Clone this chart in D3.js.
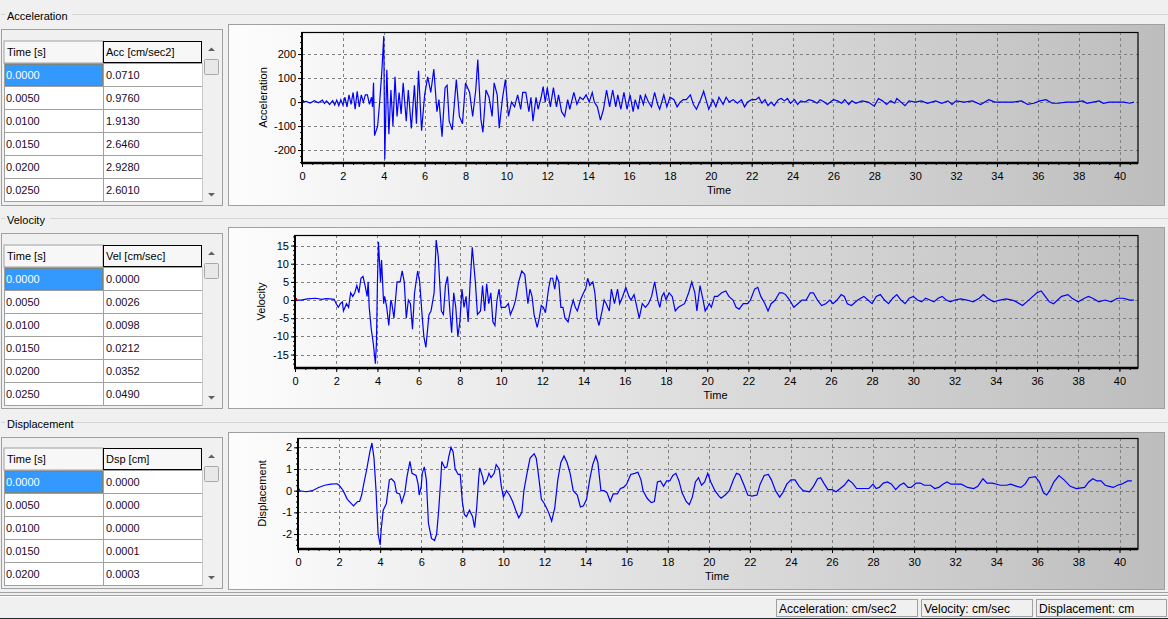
<!DOCTYPE html>
<html>
<head>
<meta charset="utf-8">
<script src="https://cdnjs.cloudflare.com/ajax/libs/d3/7.8.5/d3.min.js"></script>
<style>
  html, body { margin: 0; padding: 0; background: #f0f0f0; overflow: hidden; }
  svg text { font-family: "Liberation Sans", Arial, sans-serif; font-size: 11px; }
</style>
</head>
<body>
<div id="app"></div>
<script>
'use strict';

//Data ===========================================

// Table rows (first rows of the time history grids)
var tableTime = ['0.0000', '0.0050', '0.0100', '0.0150', '0.0200', '0.0250'];
var tableAcc = ['0.0710', '0.9760', '1.9130', '2.6460', '2.9280', '2.6010'];
var tableVel = ['0.0000', '0.0026', '0.0098', '0.0212', '0.0352', '0.0490'];
var tableDsp = ['0.0000', '0.0000', '0.0000', '0.0001', '0.0003'];

// Acceleration [cm/sec2] as [time, value]
var accData = [
  [0, 0], [0.2, 3], [0.4, -4], [0.6, 6], [0.8, -3], [1.0, 8], [1.1, -6], [1.2, 5], [1.35, -10], [1.5, 6],
  [1.6, -12], [1.7, 8], [1.8, -15], [1.9, 10], [2.0, -12], [2.1, 20], [2.2, -20], [2.3, 30], [2.4, -10], [2.5, 40],
  [2.6, -30], [2.7, 45], [2.8, -20], [2.9, 30], [3.0, 0], [3.1, 30], [3.2, 30], [3.3, -10], [3.4, 20], [3.45, -20],
  [3.5, 80], [3.55, -140], [3.7, -100], [3.8, 0], [3.9, 120], [4.0, 275], [4.05, -238], [4.15, 135], [4.25, -134], [4.35, 50],
  [4.45, -100], [4.55, 105], [4.65, -60], [4.75, 40], [4.85, -50], [4.95, 80], [5.1, -80], [5.2, 50], [5.35, -110], [5.5, 70],
  [5.6, -90], [5.7, 130], [5.85, -119], [6.0, 30], [6.15, 105], [6.3, 40], [6.45, 137], [6.6, -40], [6.7, 10], [6.85, -144],
  [7.0, 60], [7.1, 70], [7.2, -80], [7.35, -116], [7.55, 94], [7.7, -60], [7.85, -90], [8.0, 80], [8.2, 40], [8.35, -60],
  [8.5, 50], [8.6, 177], [8.75, -70], [8.85, -126], [9.0, 50], [9.15, 20], [9.3, -60], [9.4, 80], [9.55, 30], [9.65, -109],
  [9.8, 10], [9.95, 94], [10.1, -60], [10.25, 0], [10.4, -20], [10.55, 30], [10.7, -30], [10.8, 40], [10.95, 40], [11.1, -40],
  [11.2, 20], [11.3, -80], [11.45, 20], [11.55, -30], [11.7, 20], [11.8, 64], [11.9, 0],
  [12.0, 60], [12.15, -20], [12.3, 60], [12.45, -20], [12.55, 30], [12.7, -40], [12.85, -60], [13.0, 10], [13.1, -30], [13.3, 40],
  [13.45, -10], [13.6, 20], [13.75, 10], [13.9, 30], [14.05, 0], [14.2, 40], [14.3, 0], [14.45, -20], [14.6, -75], [14.75, -30],
  [14.9, 50], [15.05, -20], [15.2, 50], [15.35, -20], [15.45, 30], [15.6, -30], [15.75, 40], [15.9, -30], [16.05, 30], [16.2, -40],
  [16.3, 10], [16.45, -30], [16.55, 30], [16.7, -10], [16.8, 30], [16.95, 0], [17.1, -20], [17.25, 40], [17.4, -10], [17.5, -30],
  [17.7, 30], [17.85, -20], [18.0, 20], [18.2, 10], [18.35, -20], [18.5, 0], [18.65, 10], [18.8, 10], [19.0, 30], [19.15, -10],
  [19.3, -30], [19.5, 10], [19.65, 45], [19.8, 0], [19.9, -30], [20.1, 10], [20.25, -20], [20.4, 20], [20.6, -10], [20.75, 20],
  [20.9, 0], [21.1, 10], [21.3, -5], [21.5, 10], [21.65, -20], [21.8, 0], [22.0, 10], [22.2, 10], [22.35, 20], [22.5, -5],
  [22.65, 10], [22.8, -15], [22.95, 0], [23.1, -15], [23.3, 10], [23.45, 15], [23.6, 5], [23.75, 15], [23.9, -5], [24.1, 10],
  [24.25, -10], [24.4, 5], [24.6, 0], [24.8, 10], [25.0, 5], [25.2, -5], [25.35, 10], [25.55, 0], [25.7, -10], [25.85, 0],
  [26.0, 10], [26.2, 5], [26.4, -5], [26.55, 10], [26.75, -10], [26.9, 5], [27.1, -5], [27.4, 5], [27.7, 0],
  [28.0, -17], [28.2, 15], [28.4, 5], [28.6, -10], [28.8, 5], [29.0, -5], [29.1, 15], [29.3, 0], [29.5, -15], [29.7, 5],
  [30.0, 0], [30.3, 5], [30.6, -5], [31.0, 5], [31.3, -5], [31.6, 5], [31.8, -10], [32.0, 5], [32.4, 0], [32.8, 5],
  [33.2, -10], [33.6, 10], [33.9, 0], [34.4, 0], [34.8, 0], [35.2, 5], [35.5, -10], [35.8, -5], [36.1, 5], [36.4, 10],
  [36.7, -5], [37.0, -5], [37.4, 0], [37.8, 0], [38.2, 5], [38.4, -5], [38.7, 0], [39.0, 5], [39.2, -5], [39.5, 0],
  [39.8, 0], [40.2, 0], [40.5, -5], [40.7, 0]
];

// Velocity [cm/sec]
var velData = [
  [0, 0], [0.3, 0], [0.6, 0.3], [1.0, 0.5], [1.3, 0.2], [1.5, 0.4], [1.7, 0.3], [1.9, 0.2], [2.0, -1], [2.1, -2],
  [2.2, -1], [2.3, -0.5], [2.35, -3], [2.5, -1], [2.6, -2], [2.7, 2], [2.8, 1], [2.9, 2], [3.0, 4], [3.1, 2],
  [3.2, 6], [3.3, 6.5], [3.4, 4], [3.5, 1], [3.55, 5], [3.6, -2], [3.7, -8], [3.8, -12], [3.9, -17.5], [3.95, -12],
  [4.0, 5], [4.05, 16], [4.15, 5], [4.2, 11], [4.3, -1], [4.35, 1], [4.45, -2], [4.55, -7], [4.65, 0], [4.7, -1],
  [4.8, -5], [4.95, 5], [5.1, 5], [5.2, 8], [5.3, 5], [5.4, -5], [5.5, 0], [5.6, -1], [5.7, -8], [5.8, 2],
  [5.95, 8], [6.05, 5], [6.15, -3], [6.25, -10], [6.35, -13], [6.5, -4], [6.6, -3], [6.75, 2], [6.85, 16.5], [6.95, 12],
  [7.1, -3], [7.2, -4], [7.3, 4], [7.4, 6.5], [7.5, -2], [7.6, -9], [7.7, 2], [7.8, -2], [7.9, -10], [8.0, -6],
  [8.1, 3], [8.2, -2], [8.3, 1], [8.4, -6], [8.5, 5], [8.6, 14.5], [8.75, 5], [8.85, -4], [9.0, -3], [9.1, 4],
  [9.2, -3], [9.3, 4.5], [9.4, -1], [9.5, 2], [9.6, -6], [9.7, -7], [9.8, 0], [9.9, 3], [10.0, -2], [10.2, -2],
  [10.35, -1], [10.45, -4], [10.6, -2], [10.7, 0], [10.85, 5], [11.0, 8], [11.15, 7], [11.3, -1], [11.4, 3], [11.5, 1],
  [11.6, -4], [11.75, -7.5], [11.85, -5], [11.95, -1.5], [12.05, -2], [12.15, -3.5], [12.3, 3], [12.4, 6], [12.5, 6], [12.6, 3],
  [12.7, 6.5], [12.8, 5], [12.9, -2], [13.0, -2], [13.1, -5], [13.25, -6], [13.4, -2], [13.5, 0], [13.6, -2], [13.7, -3],
  [13.85, 0], [14.0, 2], [14.1, 3], [14.2, 6], [14.3, 4], [14.45, 5], [14.55, 2], [14.65, -5], [14.75, -7], [14.9, -3],
  [15.0, 0], [15.1, -1], [15.25, -3], [15.35, 3], [15.5, -1], [15.65, 3], [15.75, -1], [15.9, 1], [16.05, 3.5], [16.2, 1],
  [16.3, 0], [16.45, 1.5], [16.55, -1], [16.7, -5], [16.85, -1], [17.0, -2], [17.15, -1], [17.3, 1], [17.45, 5], [17.6, 0],
  [17.7, -2], [17.8, 1], [17.9, 2], [18.0, 0], [18.15, 2], [18.3, 1], [18.45, -3], [18.6, -2], [18.9, -1], [19.1, 2],
  [19.25, 5], [19.4, 2], [19.5, -3], [19.65, 4], [19.8, 0], [19.9, -3], [20.1, -1], [20.2, -2], [20.35, 1], [20.5, 1],
  [20.7, 2], [20.9, 2.5], [21.05, 1], [21.25, 0], [21.4, -2], [21.55, -2.5], [21.75, -1], [21.95, -1], [22.1, 0], [22.3, 3],
  [22.45, 3.5], [22.6, 1], [22.8, -1], [22.95, -3], [23.1, -1], [23.3, 0], [23.5, 2], [23.65, 2], [23.8, 1.5], [24.0, 0],
  [24.2, -2], [24.4, -1], [24.6, 0], [24.8, 0], [25.0, 2], [25.15, 2], [25.35, 0], [25.55, -1.5], [25.75, -1], [25.95, 0],
  [26.1, -1], [26.3, 0], [26.5, 1.5], [26.65, 1], [26.8, -1], [27.0, -1.5], [27.3, 0], [27.6, 1], [27.8, 0],
  [28.0, -1], [28.2, 1], [28.4, 1.5], [28.6, 0], [28.8, -1], [29.0, 0.5], [29.2, 1.5], [29.4, 0], [29.6, -1], [29.8, 0.5],
  [30.0, 1], [30.2, 0], [30.4, -0.5], [30.6, 0.5], [30.8, 0], [31.0, -0.5], [31.2, 0.5], [31.4, 1], [31.6, 0], [31.8, -0.5],
  [32.0, 0], [32.3, 0.3], [32.6, 0], [32.9, -0.5], [33.2, 0.5], [33.4, 1.5], [33.6, 0.5], [33.9, -0.5], [34.2, 0], [34.5, 0.3],
  [34.8, 0], [35.0, -0.5], [35.3, -1.5], [35.5, -0.5], [35.8, 1], [36.0, 2], [36.2, 2.5], [36.4, 1], [36.6, -0.5], [36.8, -1],
  [37.0, 0], [37.2, 1], [37.5, 1.5], [37.7, 0.5], [38.0, -0.5], [38.3, 0.5], [38.5, 1], [38.7, 0.5], [39.0, -0.5], [39.3, 0],
  [39.6, -0.5], [39.9, 0.5], [40.2, 0.5], [40.5, 0], [40.7, 0]
];

// Displacement [cm]
var dspData = [
  [0, 0], [0.4, -0.05], [0.7, 0], [1.0, 0.15], [1.3, 0.25], [1.6, 0.3], [1.9, 0.32], [2.0, 0.25], [2.2, 0], [2.4, -0.4],
  [2.6, -0.6], [2.7, -0.7], [2.9, -0.5], [3.0, -0.5], [3.1, -0.2], [3.2, 0.3], [3.35, 1.0], [3.5, 1.8], [3.6, 2.2], [3.7, 1.5],
  [3.8, 0], [3.9, -2.0], [4.0, -2.5], [4.05, -1.8], [4.15, -0.9], [4.3, -0.6], [4.45, 0.5], [4.55, 0.55], [4.7, 0.4], [4.8, -0.1],
  [4.95, -0.15], [5.05, -0.55], [5.2, -0.1], [5.3, 0.6], [5.45, 1.35], [5.55, 0.8], [5.75, 0.7], [5.85, 0.3], [5.9, -0.2], [6.0, 0.2],
  [6.05, 0.8], [6.15, 1.1], [6.25, 0.5], [6.35, -1.5], [6.5, -2.2], [6.65, -2.3], [6.75, -2.0], [6.85, -0.9], [6.95, 0.5], [7.0, 1.35],
  [7.15, 1.05], [7.25, 1.1], [7.35, 1.6], [7.45, 2.0], [7.55, 1.8], [7.65, 1.0], [7.8, 0.75], [7.9, 0.75], [8.0, -0.5], [8.1, -1.1],
  [8.2, -1.2], [8.35, -0.9], [8.5, -1.2], [8.6, -1.7], [8.7, -0.8], [8.8, 0.6], [8.85, 1.05], [9.0, 0.6], [9.05, 0.3], [9.2, 0.5],
  [9.3, 0.8], [9.4, 0.6], [9.55, 0.8], [9.65, 1.2], [9.8, 1.0], [9.9, 0.2], [10.0, -0.3], [10.15, 0], [10.3, -0.2], [10.45, -0.5],
  [10.6, -0.9], [10.75, -1.25], [10.9, -1.0], [11.0, 0], [11.15, 0.8], [11.3, 1.5], [11.5, 1.7], [11.6, 1.5], [11.7, 0.8], [11.85, -0.4],
  [12.0, -0.6], [12.2, -1.0], [12.35, -1.4], [12.5, -0.8], [12.65, 0.5], [12.8, 1.3], [12.95, 1.6], [13.1, 1.3], [13.25, 0.8], [13.4, 0],
  [13.6, -0.2], [13.75, -0.75], [13.9, -0.7], [14.05, -0.4], [14.2, 0.5], [14.35, 1.2], [14.5, 1.6], [14.6, 1.3], [14.75, 0], [14.9, 0],
  [15.05, -0.1], [15.2, -0.5], [15.35, -0.15], [15.55, -0.15], [15.7, 0.1], [15.85, 0.15], [16.0, 0.3], [16.2, 0.75], [16.4, 0.8], [16.55, 0.85],
  [16.7, 0.5], [16.8, 0], [17.0, -0.35], [17.2, -0.55], [17.35, -0.5], [17.5, 0.4], [17.65, 0.45], [17.8, 0.2], [17.95, 0.45], [18.1, 0.45],
  [18.25, 0.7], [18.4, 0.8], [18.55, 0.45], [18.7, -0.1], [18.9, -0.5], [19.05, -0.65], [19.2, -0.3], [19.35, 0.4], [19.5, 0.6], [19.65, 0.25],
  [19.8, 0.4], [19.95, 0.8], [20.1, 0.4], [20.3, 0], [20.5, -0.25], [20.6, -0.35], [20.8, -0.2], [21.0, 0], [21.2, 0.5], [21.35, 0.8],
  [21.5, 0.75], [21.7, 0.3], [21.9, -0.2], [22.1, -0.25], [22.35, -0.2], [22.5, 0.3], [22.7, 0.7], [22.9, 0.75], [23.05, 0.5], [23.25, 0],
  [23.45, -0.3], [23.6, -0.1], [23.8, 0.3], [24.0, 0.5], [24.2, 0.5], [24.4, 0.2], [24.6, 0], [24.9, -0.05], [25.1, 0.2], [25.3, 0.55],
  [25.45, 0.6], [25.6, 0.35], [25.8, 0.05], [26.0, 0.05], [26.2, -0.05], [26.4, 0.1], [26.6, 0.25], [26.8, 0.5], [27.0, 0.35], [27.2, 0.1],
  [27.5, 0.1], [27.8, 0.1], [28.0, 0.3], [28.15, 0.1], [28.3, 0.15], [28.5, 0.35], [28.7, 0.4], [28.9, 0.3], [29.1, 0.05], [29.3, 0.25],
  [29.5, 0.35], [29.7, 0.15], [29.85, 0.15], [30.1, 0.35], [30.3, 0.35], [30.5, 0.25], [30.8, 0.25], [31.0, 0.1], [31.2, 0.15], [31.4, 0.3],
  [31.6, 0.4], [31.8, 0.3], [32.0, 0.3], [32.3, 0.3], [32.6, 0.15], [32.9, 0.1], [33.1, 0.2], [33.35, 0.55], [33.55, 0.35], [33.8, 0.35],
  [34.2, 0.25], [34.5, 0.25], [34.7, 0.3], [35.0, 0.2], [35.2, 0.15], [35.4, 0.3], [35.6, 0.6], [35.9, 0.65], [36.1, 0.4], [36.3, -0.1],
  [36.45, -0.2], [36.6, 0], [36.8, 0.4], [37.05, 0.7], [37.3, 0.5], [37.6, 0.2], [37.9, 0.1], [38.3, 0.15], [38.5, 0.4], [38.7, 0.55],
  [38.9, 0.45], [39.1, 0.45], [39.3, 0.25], [39.5, 0.2], [39.7, 0.15], [39.9, 0.25], [40.1, 0.3], [40.4, 0.45], [40.6, 0.45]
];

var xTicks = d3.range(0, 41, 2);
var accTicks = [-200, -100, 0, 100, 200];
var velTicks = [-15, -10, -5, 0, 5, 10, 15];
var dspTicks = [-2, -1, 0, 1, 2];
var statusLabels = ['Acceleration: cm/sec2', 'Velocity: cm/sec', 'Displacement: cm'];

//Set-up =======================================

var width = 1168, height = 619;

var svg = d3.select('#app').append('svg')
  .attr('width', width)
  .attr('height', height);

svg.append('rect').attr('width', width).attr('height', height).attr('fill', '#f0f0f0');

var defs = svg.append('defs');
var grad = defs.append('linearGradient').attr('id', 'panelGrad')
  .attr('x1', '0%').attr('x2', '100%').attr('y1', '0%').attr('y2', '0%');
grad.append('stop').attr('offset', '0%').attr('stop-color', '#fdfdfd');
grad.append('stop').attr('offset', '100%').attr('stop-color', '#bdbdbd');

// plain hyphen labels, like the original app
var plainFmt = function (d) { return String(d); };

// one section = group box + grid + chart
var sections = [
  { title: 'Acceleration', groupY: 14, header: 'Acc [cm/sec2]', col: tableAcc, tableTop: 29, headTop: 41, tableBottom: 206,
    panelTop: 24, panelBottom: 206, plot: { l: 302, r: 1138, t: 32, b: 163 }, yDomain: [-254, 292], ticks: accTicks, minor: 25,
    data: accData, yLabel: 'Acceleration', labelX: 267 },
  { title: 'Velocity', groupY: 218, header: 'Vel [cm/sec]', col: tableVel, tableTop: 233, headTop: 245, tableBottom: 409,
    panelTop: 227, panelBottom: 409, plot: { l: 295, r: 1138, t: 235, b: 368 }, yDomain: [-18.7, 17.9], ticks: velTicks, minor: 1.25,
    data: velData, yLabel: 'Velocity', labelX: 265 },
  { title: 'Displacement', groupY: 422, header: 'Dsp [cm]', col: tableDsp, tableTop: 437, headTop: 448, tableBottom: 589,
    panelTop: 432, panelBottom: 590, plot: { l: 298, r: 1138, t: 438, b: 549 }, yDomain: [-2.69, 2.43], ticks: dspTicks, minor: 0.25,
    data: dspData, yLabel: 'Displacement', labelX: 266 }
];

sections.forEach(function (s) {
  var g = svg.append('g');

  // group box line + caption
  g.append('line').attr('x1', 1).attr('x2', width).attr('y1', s.groupY + 0.5).attr('y2', s.groupY + 0.5)
    .attr('stroke', '#d5d5d5');
  g.append('rect').attr('x', 5).attr('y', s.groupY - 5).attr('width', s.title.length * 5.6).attr('height', 12)
    .attr('fill', '#f0f0f0');
  g.append('text').attr('x', 7).attr('y', s.groupY + 6).attr('fill', '#000').text(s.title);

  //The grid ------------------------------
  g.append('rect').attr('x', 1.5).attr('y', s.tableTop + 0.5).attr('width', 221).attr('height', s.tableBottom - s.tableTop - 1)
    .attr('fill', '#f0f0f0').attr('stroke', '#a0a0a0');
  var rowH = 23;
  var colX = [4, 103, 202];
  // header cells
  g.append('rect').attr('x', colX[0]).attr('y', s.headTop).attr('width', 99).attr('height', 22)
    .attr('fill', '#f7f7f7').attr('stroke', '#a0a0a0');
  g.append('rect').attr('x', colX[1] + 0.5).attr('y', s.headTop + 0.5).attr('width', 98).attr('height', 21)
    .attr('fill', '#f7f7f7').attr('stroke', '#000');
  g.append('text').attr('x', colX[0] + 3).attr('y', s.headTop + 15).text('Time [s]');
  g.append('text').attr('x', colX[1] + 3).attr('y', s.headTop + 15).text(s.header);

  var rowsTop = s.headTop + 22;
  var rows = g.selectAll('.row').data(s.col).enter().append('g')
    .attr('transform', function (d, i) { return 'translate(0,' + (rowsTop + i * rowH) + ')'; });
  rows.append('rect').attr('x', colX[0] + 0.5).attr('y', 0.5).attr('width', 99).attr('height', rowH)
    .attr('fill', function (d, i) { return i === 0 ? '#3399ff' : '#ffffff'; })
    .attr('stroke', '#a0a0a0');
  rows.append('rect').attr('x', colX[1] + 0.5).attr('y', 0.5).attr('width', 99).attr('height', rowH)
    .attr('fill', '#ffffff').attr('stroke', '#a0a0a0');
  rows.append('text').attr('x', colX[0] + 2).attr('y', 16)
    .attr('fill', function (d, i) { return i === 0 ? '#ffffff' : '#1a0a2a'; })
    .text(function (d, i) { return tableTime[i]; });
  rows.append('text').attr('x', colX[1] + 3).attr('y', 16).attr('fill', '#1a0a2a')
    .text(function (d) { return d; });
  // focus rectangle on the selected cell
  g.append('rect').attr('x', colX[0] + 1.5).attr('y', rowsTop + 1.5).attr('width', 97).attr('height', rowH - 2)
    .attr('fill', 'none').attr('stroke', '#c07000').attr('stroke-dasharray', '1,1');

  // scrollbar
  var sbTop = s.headTop, sbBottom = s.tableBottom - 3;
  g.append('rect').attr('x', colX[2] + 0.5).attr('y', sbTop).attr('width', 18).attr('height', sbBottom - sbTop)
    .attr('fill', '#f0f0f0');
  g.append('path').attr('d', 'M' + 208 + ',' + (sbTop + 10) + 'l3.5,-3.5l3.5,3.5z').attr('fill', '#606060');
  g.append('path').attr('d', 'M' + 208 + ',' + (sbBottom - 10) + 'l3.5,3.5l3.5,-3.5z').attr('fill', '#606060');
  g.append('rect').attr('x', 204.5).attr('y', sbTop + 18.5).attr('width', 14).attr('height', 15)
    .attr('fill', '#e8e8e8').attr('stroke', '#a8a8a8').attr('rx', 1);

  //The chart ------------------------------
  g.append('rect').attr('x', 228.5).attr('y', s.panelTop + 0.5).attr('width', 936).attr('height', s.panelBottom - s.panelTop - 1)
    .attr('fill', 'url(#panelGrad)').attr('stroke', '#a0a0a0');

  var p = s.plot;
  var x = d3.scaleLinear().domain([0, 40.9]).range([p.l, p.r]);
  var y = d3.scaleLinear().domain(s.yDomain).range([p.b, p.t]);

  // grid lines
  g.append('g').selectAll('line').data(xTicks.slice(1)).enter().append('line')
    .attr('x1', function (d) { return Math.round(x(d)) + 0.5; })
    .attr('x2', function (d) { return Math.round(x(d)) + 0.5; })
    .attr('y1', p.t).attr('y2', p.b)
    .attr('stroke', '#808080').attr('stroke-dasharray', '3,3');
  g.append('g').selectAll('line').data(s.ticks).enter().append('line')
    .attr('x1', p.l).attr('x2', p.r)
    .attr('y1', function (d) { return Math.round(y(d)) + 0.5; })
    .attr('y2', function (d) { return Math.round(y(d)) + 0.5; })
    .attr('stroke', '#808080').attr('stroke-dasharray', '3,3');

  // axes
  var xAxis = d3.axisBottom(x).tickValues(xTicks).tickSize(4).tickSizeOuter(0).tickFormat(plainFmt);
  var xMinor = d3.axisBottom(x).tickValues(d3.range(0, 40.9, 0.5)).tickSize(2).tickFormat('');
  var yAxis = d3.axisLeft(y).tickValues(s.ticks).tickSize(4).tickSizeOuter(0).tickFormat(plainFmt);
  var yMinor = d3.axisLeft(y).tickValues(d3.range(Math.ceil(s.yDomain[0] / s.minor) * s.minor, s.yDomain[1], s.minor))
    .tickSize(2).tickFormat('');

  [xMinor, xAxis].forEach(function (ax) {
    var a = g.append('g').attr('transform', 'translate(0,' + p.b + ')').call(ax);
    a.select('.domain').remove();
    a.selectAll('line').attr('stroke', '#000');
    a.selectAll('text').attr('fill', '#000').attr('dy', '0.9em').style('font-size', '11px');
  });
  [yMinor, yAxis].forEach(function (ax) {
    var a = g.append('g').attr('transform', 'translate(' + p.l + ',0)').call(ax);
    a.select('.domain').remove();
    a.selectAll('line').attr('stroke', '#000');
    a.selectAll('text').attr('fill', '#000').attr('x', -6).style('font-size', '11px');
  });

  // the trace
  var line = d3.line()
    .x(function (d) { return x(d[0]); })
    .y(function (d) { return y(d[1]); });

  g.append('clipPath').attr('id', 'clip' + s.title)
    .append('rect').attr('x', p.l).attr('y', p.t).attr('width', p.r - p.l).attr('height', p.b - p.t);
  g.append('path').datum(s.data)
    .attr('clip-path', 'url(#clip' + s.title + ')')
    .attr('d', line)
    .attr('fill', 'none').attr('stroke', '#0000ff').attr('stroke-width', 1.2);

  // small marker at origin
  g.append('rect').attr('x', x(0) - 1).attr('y', y(0) - 2).attr('width', 3).attr('height', 3).attr('fill', '#a00000');

  // frame: thick left/bottom, thin top/right
  g.append('rect').attr('x', p.l).attr('y', p.t + 0.5).attr('width', p.r - p.l).attr('height', p.b - p.t - 0.5)
    .attr('fill', 'none').attr('stroke', '#000').attr('stroke-width', 1.2);
  g.append('line').attr('x1', p.l).attr('x2', p.l).attr('y1', p.t).attr('y2', p.b + 1)
    .attr('stroke', '#000').attr('stroke-width', 2);
  g.append('line').attr('x1', p.l - 1).attr('x2', p.r).attr('y1', p.b).attr('y2', p.b)
    .attr('stroke', '#000').attr('stroke-width', 2.5);

  // titles
  g.append('text').attr('x', (p.l + p.r) / 2 - 1).attr('y', p.b + 31)
    .attr('text-anchor', 'middle').text('Time');
  g.append('text')
    .attr('transform', 'translate(' + s.labelX + ',' + ((p.t + p.b) / 2) + ') rotate(-90)')
    .attr('text-anchor', 'middle').text(s.yLabel);
});

//Status bar ====================================
svg.append('line').attr('x1', 0).attr('x2', width).attr('y1', 592.5).attr('y2', 592.5).attr('stroke', '#a0a0a0');
svg.append('line').attr('x1', 0).attr('x2', width).attr('y1', 595.5).attr('y2', 595.5).attr('stroke', '#a0a0a0');
svg.append('line').attr('x1', 0).attr('x2', width).attr('y1', 596.5).attr('y2', 596.5).attr('stroke', '#ffffff');

var statusX = [776, 921, 1036];
var statusW = [141, 111, 130];
var st = svg.selectAll('.status').data(statusLabels).enter().append('g');
st.append('rect')
  .attr('x', function (d, i) { return statusX[i] + 0.5; })
  .attr('y', 599.5).attr('width', function (d, i) { return statusW[i]; }).attr('height', 17)
  .attr('fill', '#f0f0f0').attr('stroke', '#a0a0a0');
st.append('text')
  .attr('x', function (d, i) { return statusX[i] + 3; })
  .attr('y', 613).style('font-size', '12px').text(function (d) { return d; });
svg.append('line').attr('x1', 0).attr('x2', width).attr('y1', 618.5).attr('y2', 618.5).attr('stroke', '#202830');
</script>
</body>
</html>
